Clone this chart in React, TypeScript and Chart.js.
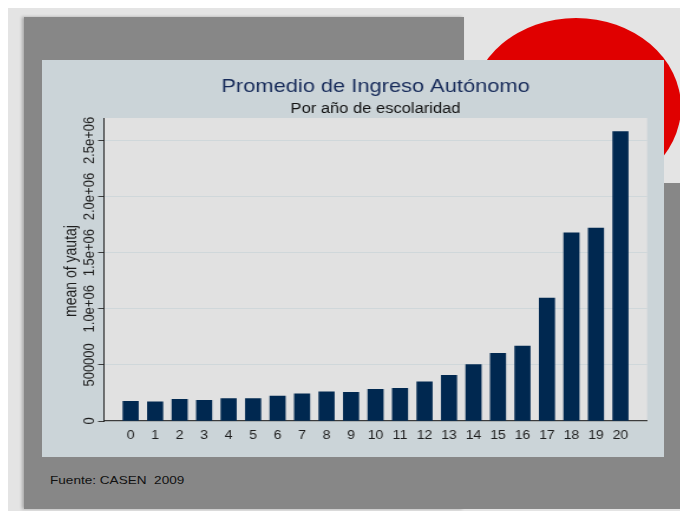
import React, { useEffect, useRef } from "react";
import { Chart, registerables } from "chart.js";

Chart.register(...registerables);

// ---- data ----
const years = [0, 1, 2, 3, 4, 5, 6, 7, 8, 9, 10, 11, 12, 13, 14, 15, 16, 17, 18, 19, 20];
const meanIncome = [
  176000, 170000, 194000, 185000, 199000, 199000, 223000, 241000, 259000, 256000, 283000,
  292000, 348000, 408000, 503000, 604000, 667000, 1095000, 1676000, 1720000, 2578000,
];
const yTickValues = [0, 500000, 1000000, 1500000, 2000000, 2500000];
const yTickLabels = ["0", "500000", "1.0e+06", "1.5e+06", "2.0e+06", "2.5e+06"];
const titleText = "Promedio de Ingreso Autónomo";
const subtitleText = "Por año de escolaridad";
const yAxisTitle = "mean of yautaj";
const sourceNote = "Fuente: CASEN  2009";

const FONT = "'Liberation Sans', Arial, Helvetica, sans-serif";
const STRETCH = 1.18;
const PANEL_W = 622;
const PANEL_H = 397;
const CANVAS_W = Math.round(PANEL_W / STRETCH);

const PANEL_BG = "#cbd4d8";
const PLOT_BG = "#e1e1e1";
const GRID = "#cfd7da";
const BAR = "#002850";

const decorations = {
  id: "decorations",
  beforeDraw(chart: any) {
    const { ctx, chartArea, width, height } = chart;
    ctx.save();
    ctx.fillStyle = PANEL_BG;
    ctx.fillRect(0, 0, width, height);
    ctx.fillStyle = PLOT_BG;
    ctx.fillRect(chartArea.left, chartArea.top, chartArea.right - chartArea.left, chartArea.bottom - chartArea.top);
    ctx.restore();
  },
  afterDraw(chart: any) {
    const { ctx, chartArea, scales } = chart;
    const xs = scales.x;
    const ys = scales.y;
    const midX = (chartArea.left + chartArea.right) / 2;
    ctx.save();
    ctx.textAlign = "center";
    ctx.textBaseline = "alphabetic";

    ctx.fillStyle = "#172b5a";
    ctx.font = `18.5px ${FONT}`;
    ctx.fillText(titleText, midX, 32.3);

    ctx.fillStyle = "#111111";
    ctx.font = `14px ${FONT}`;
    ctx.fillText(subtitleText, midX, 53.3);

    ctx.fillStyle = "#1e1e1e";
    ctx.font = `12px ${FONT}`;
    years.forEach((v) => {
      ctx.fillText(String(v), xs.getPixelForValue(v), chartArea.bottom + 18.3);
    });

    ctx.font = `13px ${FONT}`;
    yTickValues.forEach((v, i) => {
      ctx.save();
      ctx.translate(chartArea.left - 8.9, ys.getPixelForValue(v));
      ctx.rotate(-Math.PI / 2);
      ctx.fillText(yTickLabels[i], 0, 0);
      ctx.restore();
    });

    ctx.font = `14px ${FONT}`;
    ctx.save();
    ctx.translate(28.8, (chartArea.top + chartArea.bottom) / 2 + 1.5);
    ctx.rotate(-Math.PI / 2);
    ctx.fillText(yAxisTitle, 0, 0);
    ctx.restore();

    ctx.restore();
  },
};

function BarChart() {
  const ref = useRef<HTMLCanvasElement | null>(null);
  useEffect(() => {
    if (!ref.current) return;
    const chart = new Chart(ref.current, {
      type: "bar",
      data: {
        datasets: [
          {
            data: years.map((x, i) => ({ x, y: meanIncome[i] })),
            backgroundColor: BAR,
            borderWidth: 0,
            barThickness: 13,
          },
        ],
      },
      options: {
        animation: false,
        responsive: false,
        devicePixelRatio: 1,
        layout: { padding: { left: 52.5, top: 58, right: 14.3, bottom: 36 } },
        plugins: {
          legend: { display: false },
          title: { display: false },
          tooltip: { enabled: false },
        },
        scales: {
          x: {
            type: "linear",
            min: -1.09,
            max: 21.09,
            offset: false,
            grid: { display: false, drawTicks: false },
            border: { display: true, color: "#3c3c3c", width: 1.2 },
            ticks: { display: false },
            afterFit: (s: any) => {
              s.height = 0;
            },
          },
          y: {
            type: "linear",
            min: 0,
            max: 2700000,
            grid: { color: GRID, lineWidth: 1, tickColor: "#3c3c3c", tickLength: 5, drawTicks: true },
            border: { display: true, color: "#1e1e1e", width: 1 },
            ticks: { display: false },
            afterBuildTicks: (s: any) => {
              s.ticks = yTickValues.map((v) => ({ value: v }));
            },
            afterFit: (s: any) => {
              s.width = 0;
            },
          },
        },
      } as any,
      plugins: [decorations],
    });
    return () => chart.destroy();
  }, []);
  return (
    <canvas
      ref={ref}
      width={CANVAS_W}
      height={PANEL_H}
      style={{ position: "absolute", left: 42, top: 60, width: PANEL_W, height: PANEL_H }}
    />
  );
}

export default function App() {
  return (
    <div
      style={{
        position: "fixed",
        left: 0,
        top: 0,
        width: 680,
        height: 511,
        background: "#ffffff",
        overflow: "hidden",
      }}
    >
      <div style={{ position: "absolute", left: 8, top: 8, width: 672, height: 503, background: "#e4e4e4" }} />
      <div
        style={{
          position: "absolute",
          left: 471,
          top: 18,
          width: 210,
          height: 178,
          borderRadius: "50%",
          background: "#e00000",
        }}
      />
      <div
        style={{
          position: "absolute",
          left: 24,
          top: 17,
          width: 440,
          height: 492,
          background: "#878787",
          boxShadow: "-2px 0 3px rgba(0,0,0,0.25)",
        }}
      />
      <div style={{ position: "absolute", left: 24, top: 183, width: 656, height: 326, background: "#878787" }} />
      <BarChart />
      <div
        style={{
          position: "absolute",
          left: 50,
          top: 473,
          fontFamily: FONT,
          fontSize: 11.5,
          lineHeight: "14px",
          color: "#111111",
          whiteSpace: "pre",
          transform: `scaleX(${STRETCH})`,
          transformOrigin: "left top",
        }}
      >
        {sourceNote}
      </div>
    </div>
  );
}
